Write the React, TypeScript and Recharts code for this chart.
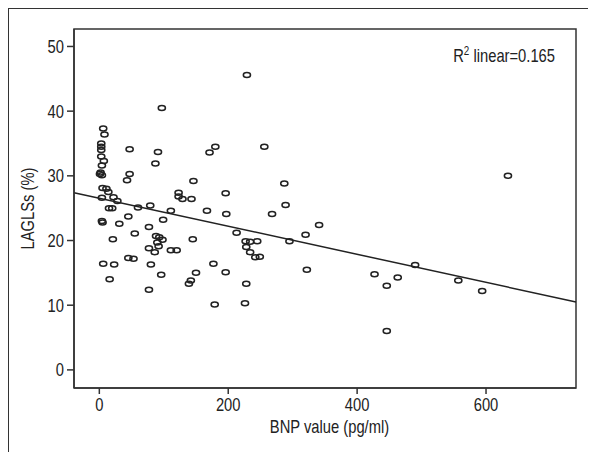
import React from "react";
import { ScatterChart, Scatter, XAxis, YAxis, ReferenceLine, ReferenceArea, Label } from "recharts";

// BNP (pg/ml) and LAGLSs (%), one pair per patient
const bnp = [
  6, 8, 3, 3, 3, 3, 7, 4, 2, 1, 4, 5, 11, 14, 22, 4, 28, 15, 20, 4, 5, 6, 16, 21, 23, 31,
  45, 47, 43, 47, 55, 45, 53, 60, 77, 79, 77, 80, 77, 87, 91, 97,
  88, 93, 98, 90, 92, 86, 96, 99, 111, 111, 120, 123, 123, 129, 143, 146, 145, 139, 142, 150,
  167, 171, 180, 177, 179, 196, 197, 196, 213, 227, 234, 245, 228, 234, 242, 249, 228, 226, 229,
  256, 268, 287, 289, 295, 320, 322, 341, 427, 446, 446, 463, 490, 557, 594, 634,
];
const lagls = [
  37.3, 36.4, 35.0, 34.5, 34.0, 33.0, 32.3, 31.6, 30.5, 30.3, 30.1, 28.1, 28.0, 27.5, 26.7, 26.6, 26.1, 25.0, 25.0, 23.0, 22.8, 16.4, 14.0, 20.2, 16.3, 22.6,
  23.7, 34.1, 29.3, 30.3, 21.1, 17.3, 17.2, 25.1, 22.1, 25.4, 18.8, 16.3, 12.4, 31.9, 33.7, 40.5,
  20.7, 20.5, 20.1, 19.7, 19.1, 18.2, 14.7, 23.2, 24.6, 18.5, 18.5, 27.4, 26.8, 26.4, 26.4, 29.2, 20.2, 13.3, 13.8, 15.0,
  24.6, 33.6, 34.5, 16.4, 10.1, 27.3, 24.1, 15.1, 21.2, 19.9, 19.8, 19.9, 19.0, 18.2, 17.4, 17.5, 13.3, 10.3, 45.6,
  34.5, 24.1, 28.8, 25.5, 19.9, 20.9, 15.5, 22.4, 14.8, 13.0, 6.0, 14.3, 16.2, 13.8, 12.2, 30.0,
];

const xTicks = [0, 200, 400, 600];
const yTicks = [0, 10, 20, 30, 40, 50];
const xDomain = [-39.3, 739.6];
const yDomain = [-2.8, 52.7];

// ends of the linear fit, where it meets the frame
const fitLine = [
  { x: -39.3, y: 27.4 },
  { x: 739.6, y: 10.5 },
];
const r2Value = "0.165";

const points = bnp.map((b, i) => ({ bnp: b, lagls: lagls[i] }));

// no condensed font installed, so squeeze Liberation Sans sideways
const font = "'Liberation Sans', Arial, sans-serif";
const squeeze = 0.82;
const ink = "#222";

const Narrow = (p: any) => (
  <text
    transform={`translate(${p.x},${p.y}) rotate(${p.angle || 0}) scale(${squeeze},1)`}
    textAnchor={p.anchor}
    dy={p.dy}
    fontFamily={font}
    fontSize={18}
    fill={ink}
  >
    {p.children}
  </text>
);

const XTick = (p: any) => (
  <Narrow x={p.x} y={p.y} anchor="middle" dy="0.71em">
    {p.payload.value}
  </Narrow>
);

const YTick = (p: any) => (
  <Narrow x={p.x} y={p.y} anchor="end" dy="0.355em">
    {p.payload.value}
  </Narrow>
);

const XTitle = (p: any) => {
  const vb = p.viewBox;
  return (
    <Narrow x={vb.x + vb.width / 2 + 4.5} y={vb.y + 45} anchor="middle">
      BNP value (pg/ml)
    </Narrow>
  );
};

const YTitle = (p: any) => {
  const vb = p.viewBox;
  return (
    <Narrow x={19} y={vb.y + vb.height / 2} angle={-90} anchor="middle" dy="0.355em">
      LAGLSs (%)
    </Narrow>
  );
};

const Ring = (props: any) => (
  <ellipse cx={props.cx} cy={props.cy} rx={3.6} ry={2.5} fill="none" stroke={ink} strokeWidth={1.5} />
);

const R2Label = (props: any) => {
  const vb = props.viewBox || { x: 0, y: 0, width: 0, height: 0 };
  return (
    <Narrow x={vb.x + vb.width - 21} y={vb.y + 33} anchor="end">
      R<tspan fontSize={12} dy={-7}>2</tspan>
      <tspan dy={7}> linear={r2Value}</tspan>
    </Narrow>
  );
};

export default function App() {
  return (
    <div
      style={{
        width: 588,
        height: 444,
        boxSizing: "border-box",
        borderTop: "1px solid #333",
        borderLeft: "1px solid #333",
        overflow: "hidden",
      }}
    >
      <style>{"html,body{overflow:hidden}"}</style>
      <ScatterChart width={587} height={443} margin={{ top: 20, right: 20, bottom: 0, left: 0 }}>
        <XAxis
          type="number"
          dataKey="bnp"
          domain={xDomain}
          ticks={xTicks}
          allowDataOverflow
          height={64}
          tickSize={6}
          tickMargin={4}
          axisLine={{ stroke: "#333", strokeWidth: 1.5 }}
          tickLine={{ stroke: "#333", strokeWidth: 1.5 }}
          tick={<XTick />}
        >
          <Label content={<XTitle />} />
        </XAxis>
        <YAxis
          type="number"
          dataKey="lagls"
          domain={yDomain}
          ticks={yTicks}
          allowDataOverflow
          width={65}
          tickSize={7}
          tickMargin={3}
          axisLine={{ stroke: "#333", strokeWidth: 1.5 }}
          tickLine={{ stroke: "#333", strokeWidth: 1.5 }}
          tick={<YTick />}
        >
          <Label content={<YTitle />} />
        </YAxis>
        <ReferenceArea
          x1={xDomain[0]}
          x2={xDomain[1]}
          y1={yDomain[0]}
          y2={yDomain[1]}
          fill="none"
          stroke="#333"
          strokeWidth={1.5}
          ifOverflow="visible"
          label={<R2Label />}
        />
        <ReferenceLine segment={fitLine} stroke={ink} strokeWidth={1.5} ifOverflow="visible" />
        <Scatter data={points} shape={<Ring />} isAnimationActive={false} />
      </ScatterChart>
    </div>
  );
}
